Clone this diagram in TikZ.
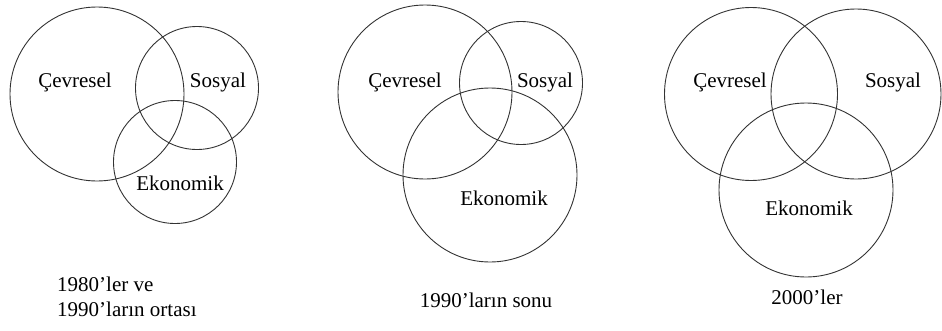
\documentclass[tikz,border=0pt]{standalone}
\usepackage{fontspec}
\setmainfont{Liberation Serif}
\usetikzlibrary{positioning}

\begin{document}
\begin{tikzpicture}[
    x=1pt, y=-1pt,
    ring/.style={circle, draw=black!80, line width=0.9pt, inner sep=0pt},
    label/.style={font=\fontsize{21}{25}\selectfont, inner sep=0pt},
    caption/.style={font=\fontsize{21}{25}\selectfont, align=left, inner sep=0pt}
]
    \useasboundingbox (0,0) rectangle (942,330);

    % 1980'ler ve 1990'larin ortasi
    \node [ring, minimum size=174pt] (cev1) at (97,94) {};
    \node [ring, minimum size=123pt] (sos1) at (197,88) {};
    \node [ring, minimum size=123pt] (eko1) at (175,162) {};
    \node [label] (cevt1) at (75,82) {Çevresel};
    \node [label] (sost1) at (218,82) {Sosyal};
    \node [label] (ekot1) at (180,183) {Ekonomik};
    \node [caption, anchor=west] (cap1) at (57,297) {1980’ler ve\\1990’ların ortası};

    % 1990'larin sonu
    \node [ring, minimum size=174pt] (cev2) at (425,92) {};
    \node [ring, minimum size=123pt] (sos2) at (521,83) {};
    \node [ring, minimum size=174pt] (eko2) at (490,175) {};
    \node [label] (cevt2) at (405,82) {Çevresel};
    \node [label] (sost2) at (545,82) {Sosyal};
    \node [label] (ekot2) at (504,198) {Ekonomik};
    \node [caption] (cap2) at (486,300) {1990’ların sonu};

    % 2000'ler
    \node [ring, minimum size=173pt] (cev3) at (751,94) {};
    \node [ring, minimum size=170pt] (sos3) at (856,94) {};
    \node [ring, minimum size=174pt] (eko3) at (806,190) {};
    \node [label] (cevt3) at (730,82) {Çevresel};
    \node [label] (sost3) at (893,82) {Sosyal};
    \node [label] (ekot3) at (809,208) {Ekonomik};
    \node [caption] (cap3) at (807,297) {2000’ler};
\end{tikzpicture}
\end{document}
